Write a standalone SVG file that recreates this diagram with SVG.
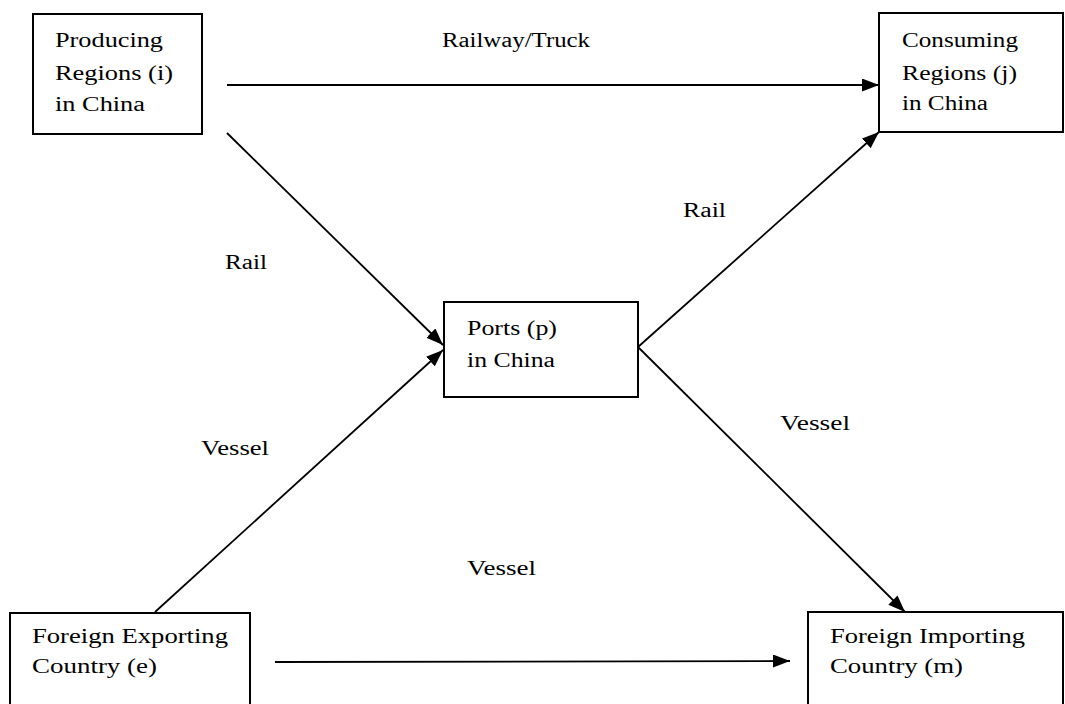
<svg xmlns="http://www.w3.org/2000/svg" width="1065" height="704" viewBox="0 0 1065 704">
<style>
.box{fill:#fff;stroke:#000;stroke-width:2}
.t{font-family:"Liberation Serif","Times New Roman",serif;font-size:20px;fill:#000}
.c{fill:none;stroke:#000;stroke-width:1.8}
</style>
<defs>
<marker id="ah" markerUnits="userSpaceOnUse" markerWidth="18" markerHeight="14" refX="17" refY="6.5" orient="auto">
<path d="M0,0 L17,6.5 L0,13 z" fill="#000"/>
</marker>
</defs>
<rect width="1065" height="704" fill="#fff"/>
<g id="connectors">
<path class="c" d="M227,85 L879,85" stroke-width="2.5" marker-end="url(#ah)"/>
<path class="c" d="M227,133 L443,345" marker-end="url(#ah)"/>
<path class="c" d="M155,612 L443,350" marker-end="url(#ah)"/>
<path class="c" d="M638,347 L879,132" marker-end="url(#ah)"/>
<path class="c" d="M638,347 L905,612" marker-end="url(#ah)"/>
<path class="c" d="M275,662 L790,661" marker-end="url(#ah)"/>
<text class="t" x="442" y="47" textLength="148" lengthAdjust="spacingAndGlyphs">Railway/Truck</text>
<text class="t" x="225" y="269" textLength="42" lengthAdjust="spacingAndGlyphs">Rail</text>
<text class="t" x="683" y="217" textLength="43" lengthAdjust="spacingAndGlyphs">Rail</text>
<text class="t" x="201" y="455" textLength="68" lengthAdjust="spacingAndGlyphs">Vessel</text>
<text class="t" x="780" y="430" textLength="70" lengthAdjust="spacingAndGlyphs">Vessel</text>
<text class="t" x="467" y="575" textLength="69" lengthAdjust="spacingAndGlyphs">Vessel</text>
</g>
<g id="producing">
<rect class="box" x="33" y="14" width="169" height="120"/>
<text class="t" x="55" y="47" textLength="108" lengthAdjust="spacingAndGlyphs">Producing</text>
<text class="t" x="55" y="80" textLength="118" lengthAdjust="spacingAndGlyphs">Regions (i)</text>
<text class="t" x="55" y="111" textLength="90" lengthAdjust="spacingAndGlyphs">in China</text>
</g>
<g id="consuming">
<rect class="box" x="879" y="13" width="184" height="119"/>
<text class="t" x="902" y="47" textLength="116" lengthAdjust="spacingAndGlyphs">Consuming</text>
<text class="t" x="902" y="80" textLength="115" lengthAdjust="spacingAndGlyphs">Regions (j)</text>
<text class="t" x="902" y="110" textLength="86" lengthAdjust="spacingAndGlyphs">in China</text>
</g>
<g id="ports">
<rect class="box" x="444" y="302" width="194" height="95"/>
<text class="t" x="467" y="335" textLength="90" lengthAdjust="spacingAndGlyphs">Ports (p)</text>
<text class="t" x="467" y="367" textLength="88" lengthAdjust="spacingAndGlyphs">in China</text>
</g>
<g id="exporting">
<rect class="box" x="10" y="613" width="240" height="100"/>
<text class="t" x="32" y="643" textLength="196" lengthAdjust="spacingAndGlyphs">Foreign Exporting</text>
<text class="t" x="32" y="673" textLength="125" lengthAdjust="spacingAndGlyphs">Country (e)</text>
</g>
<g id="importing">
<rect class="box" x="808" y="612" width="255" height="100"/>
<text class="t" x="830" y="643" textLength="195" lengthAdjust="spacingAndGlyphs">Foreign Importing</text>
<text class="t" x="830" y="673" textLength="133" lengthAdjust="spacingAndGlyphs">Country (m)</text>
</g>
</svg>
